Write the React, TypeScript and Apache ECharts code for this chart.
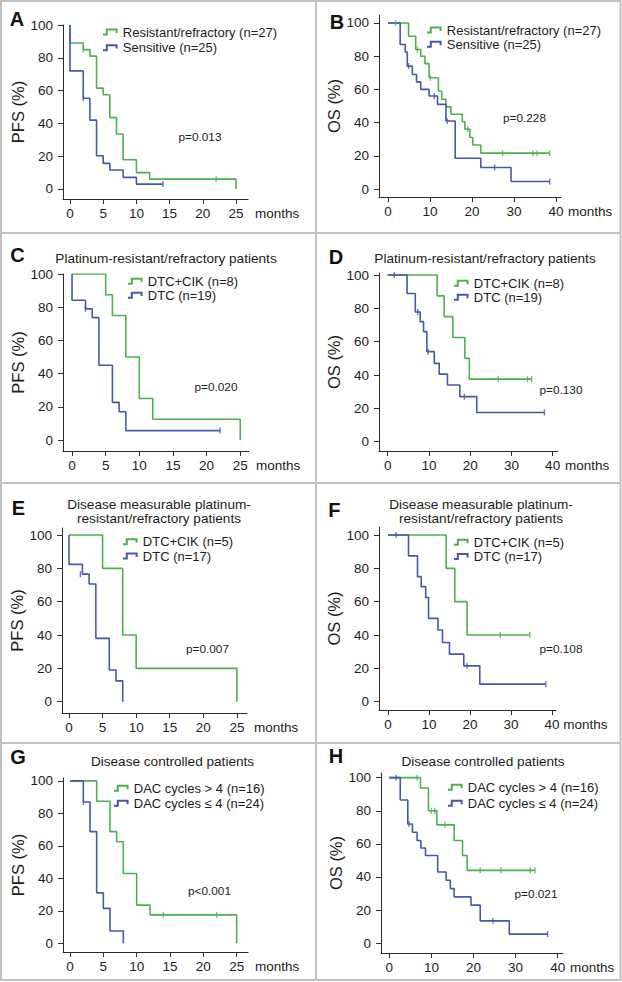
import React, { useEffect, useRef } from "react";
import * as echarts from "echarts";

type Pt = [number, number];

// ---------- tick labels ----------
const pfsTicks = [0, 5, 10, 15, 20, 25];
const osTicks = [0, 10, 20, 30, 40];
const pctTicks = [0, 20, 40, 60, 80, 100];

// ---------- legend names ----------
const legendAB = ["Resistant/refractory (n=27)", "Sensitive (n=25)"];
const legendCD = ["DTC+CIK (n=8)", "DTC (n=19)"];
const legendEF = ["DTC+CIK (n=5)", "DTC (n=17)"];
const legendGH = ["DAC cycles > 4 (n=16)", "DAC cycles \u2264 4 (n=24)"];

// ---------- titles / p values ----------
const titlesCD = ["Platinum-resistant/refractory patients"];
const titlesEF = ["Disease measurable platinum-", "resistant/refractory patients"];
const titlesGH = ["Disease controlled patients"];
const pValues = ["p=0.013", "p=0.228", "p=0.020", "p=0.130", "p=0.007", "p=0.108", "p<0.001", "p=0.021"];

// ---------- A: PFS, resistant/refractory vs sensitive ----------
const A_green: Pt[] = [[0, 100], [0, 89], [2, 85], [3, 81], [4, 61.5], [5, 57.5], [6, 43.5], [7, 33.5], [8, 17.8], [10, 10], [12, 6], [25, 0]];
const A_greenCens: Pt[] = [[2, 85], [22, 6]];
const A_blue: Pt[] = [[0, 100], [0, 72], [2, 55.3], [3, 42], [4, 20.3], [5, 15.6], [6, 11.6], [8, 7.1], [10, 3], [14, 3]];
const A_blueCens: Pt[] = [[2, 55.3], [14, 3]];

// ---------- B: OS, resistant/refractory vs sensitive ----------
const B_green: Pt[] = [[0, 100], [4.9, 92], [6.6, 84], [7.8, 80], [8.8, 75.5], [9.8, 67], [12, 59], [12.8, 54], [13.8, 49.5], [15, 45], [17.7, 40.5], [18.3, 36], [19.5, 31], [20.2, 26.5], [22.1, 21.6], [38.5, 21.6]];
const B_greenCens: Pt[] = [[1.8, 100], [7, 84], [10.1, 67], [19, 36], [27.3, 21.6], [34.5, 21.6], [35.5, 21.6], [38.5, 21.6]];
const B_blue: Pt[] = [[0, 100], [2.9, 87], [4.1, 82.5], [4.6, 74], [5.8, 69], [6.8, 64.5], [7.8, 60], [9.8, 56], [11.8, 51], [13.8, 41], [16, 18.5], [22.1, 13], [29.3, 4.5], [38.5, 4.5]];
const B_blueCens: Pt[] = [[4.9, 74], [11, 56], [14.1, 41], [25.4, 13], [38.5, 4.5]];

// ---------- C: PFS, DTC+CIK vs DTC ----------
const C_green: Pt[] = [[0, 100], [5, 87.5], [6, 75], [8, 50], [10, 25], [12, 12.5], [25, 0]];
const C_greenCens: Pt[] = [];
const C_blue: Pt[] = [[0, 100], [0, 84.2], [2, 79], [3, 73.7], [4, 45], [6, 22.7], [7, 17], [8, 5.7], [22, 5.7]];
const C_blueCens: Pt[] = [[2, 79], [22, 5.7]];

// ---------- D: OS, DTC+CIK vs DTC ----------
const D_green: Pt[] = [[0, 100], [12, 87.5], [13.7, 75], [15.8, 62.5], [18.7, 50], [19.8, 37.5], [34.9, 37.5]];
const D_greenCens: Pt[] = [[26.8, 37.5], [33.9, 37.5], [34.9, 37.5]];
const D_blue: Pt[] = [[0, 100], [4.7, 88.9], [6.7, 77.8], [7.9, 72], [8.7, 66], [9.5, 54], [11.3, 47], [12.5, 40.5], [14.5, 34], [17.5, 27], [21.6, 17.5], [38, 17.5]];
const D_blueCens: Pt[] = [[1.6, 100], [7.3, 77.8], [9.8, 54], [18.6, 27], [38, 17.5]];

// ---------- E: PFS, measurable disease ----------
const E_green: Pt[] = [[0, 100], [5, 80], [8, 40], [10, 20], [25, 0]];
const E_greenCens: Pt[] = [];
const E_blue: Pt[] = [[0, 100], [0, 82.4], [2, 76.5], [3, 70.6], [4, 38], [6, 19], [7, 12.5], [8, 0]];
const E_blueCens: Pt[] = [[1.7, 76.5]];

// ---------- F: OS, measurable disease ----------
const F_green: Pt[] = [[0, 100], [14.2, 80], [16.3, 60], [19.3, 40], [34.6, 40]];
const F_greenCens: Pt[] = [[27.4, 40], [34.6, 40]];
const F_blue: Pt[] = [[0, 100], [5, 87.5], [7.2, 75], [8.1, 69], [9.2, 62.5], [9.9, 50], [12.2, 43], [13.3, 35.5], [15, 28.5], [18.5, 21.5], [22.4, 10.5], [38.5, 10.5]];
const F_blueCens: Pt[] = [[2, 100], [19.3, 21.5], [38.5, 10.5]];

// ---------- G: PFS, disease controlled ----------
const G_green: Pt[] = [[0, 100], [4, 87.5], [6, 68.75], [7, 62.5], [8, 43], [10, 23.5], [12, 17.5], [25, 0]];
const G_greenCens: Pt[] = [[14, 17.5], [22, 17.5]];
const G_blue: Pt[] = [[0, 100], [2, 87], [3, 68.75], [4, 31], [5, 21.5], [6, 7.5], [8, 0]];
const G_blueCens: Pt[] = [[2, 87]];

// ---------- H: OS, disease controlled ----------
const H_green: Pt[] = [[0, 100], [7.4, 93.75], [9.3, 80], [11.3, 71.5], [15.4, 62], [17.4, 53], [18.5, 44], [34.6, 44]];
const H_greenCens: Pt[] = [[6.6, 100], [10, 80], [10.8, 80], [13.2, 71.5], [21.6, 44], [26.5, 44], [33.5, 44], [34.6, 44]];
const H_blue: Pt[] = [[0, 100], [2.6, 86.5], [4.4, 72], [5.5, 67], [6.6, 62], [7.5, 57.5], [8.6, 53], [11.5, 43], [13.5, 38], [14.5, 33], [15.4, 28], [19.4, 23], [21.6, 13.5], [28.5, 5.5], [37.6, 5.5]];
const H_blueCens: Pt[] = [[1.6, 100], [4.7, 72], [24.6, 13.5], [37.6, 5.5]];

// ---------- styling ----------
const FONT = '"Liberation Sans", Arial, Helvetica, sans-serif';
const GREEN = "#4cb150";
const BLUE = "#4758a8";
const AXIS = "#2a2a2a";
const TEXT = "#1c1c1c";
const BORDER = "#c0c0c0";
const LEGEND_ICON = "path://M0,5 H2.8 V0 H14.6 V4.4 H12.6 V2 H4.8 V7 H0 Z";

const panels = [
  { letter: "A", yName: "PFS (%)", xTicks: pfsTicks, legend: legendAB, title: [] as string[], g: A_green, gc: A_greenCens, b: A_blue, bc: A_blueCens,
    grid: [63, 25, 185, 174], x: [-1.05, 26.8], y: [-6.1, 100], yGap: 28, lp: [17, 19], lg: [103, 25.5, 2.7], pp: [200, 137], tp: [0, 0] },
  { letter: "B", yName: "OS (%)", xTicks: osTicks, legend: legendAB, title: [] as string[], g: B_green, gc: B_greenCens, b: B_blue, bc: B_blueCens,
    grid: [379, 15, 182, 182], x: [-2.14, 41.2], y: [-4.8, 104.8], yGap: 29, lp: [337, 22], lg: [427, 23.5, 1.3], pp: [524.5, 118], tp: [0, 0] },
  { letter: "C", yName: "PFS (%)", xTicks: pfsTicks, legend: legendCD, title: titlesCD, g: C_green, gc: C_greenCens, b: C_blue, bc: C_blueCens,
    grid: [63, 274, 186, 177], x: [-1.34, 26.3], y: [-6.6, 100], yGap: 26, lp: [17.5, 255], lg: [128, 274.7, 1], pp: [216, 387], tp: [166, 258] },
  { letter: "D", yName: "OS (%)", xTicks: osTicks, legend: legendCD, title: titlesCD, g: D_green, gc: D_greenCens, b: D_blue, bc: D_blueCens,
    grid: [379, 273, 179, 178], x: [-2.1, 41.3], y: [-5.6, 101.2], yGap: 28, lp: [336, 257], lg: [454, 276.8, 1], pp: [561, 390], tp: [485, 258] },
  { letter: "E", yName: "PFS (%)", xTicks: pfsTicks, legend: legendEF, title: titlesEF, g: E_green, gc: E_greenCens, b: E_blue, bc: E_blueCens,
    grid: [62, 528, 185, 185], x: [-1.04, 26.5], y: [-6.8, 104.2], yGap: 26, lp: [18.3, 508], lg: [123, 535.2, 1.3], pp: [207.5, 649], tp: [159, 504.8] },
  { letter: "F", yName: "OS (%)", xTicks: osTicks, legend: legendEF, title: titlesEF, g: F_green, gc: F_greenCens, b: F_blue, bc: F_blueCens,
    grid: [379, 527, 177, 183], x: [-2.2, 41], y: [-5, 104.8], yGap: 28, lp: [334.3, 510], lg: [454, 535.8, 1.3], pp: [561, 649], tp: [481, 504.8] },
  { letter: "G", yName: "PFS (%)", xTicks: pfsTicks, legend: legendGH, title: titlesGH, g: G_green, gc: G_greenCens, b: G_blue, bc: G_blueCens,
    grid: [63, 778, 185, 174], x: [-1.05, 26.7], y: [-5.4, 101.8], yGap: 26.5, lp: [18, 757], lg: [114, 781.8, 2], pp: [209.5, 891], tp: [172.5, 761] },
  { letter: "H", yName: "OS (%)", xTicks: osTicks, legend: legendGH, title: titlesGH, g: H_green, gc: H_greenCens, b: H_blue, bc: H_blueCens,
    grid: [381, 773, 182, 180], x: [-1.97, 41.26], y: [-5.9, 102.8], yGap: 29, lp: [336, 756], lg: [448, 780.8, 3], pp: [536, 894], tp: [483, 761] },
];

function buildOption() {
  const grid: any[] = [];
  const xAxis: any[] = [];
  const yAxis: any[] = [];
  const series: any[] = [];
  const legend: any[] = [];
  const graphic: any[] = [];

  const labelStyle = { fontSize: 13.5, color: TEXT, fontFamily: FONT };

  panels.forEach((p, i) => {
    grid.push({ left: p.grid[0], top: p.grid[1], width: p.grid[2], height: p.grid[3], containLabel: false });
    xAxis.push({
      gridIndex: i,
      type: "value",
      min: p.x[0],
      max: p.x[1],
      axisLine: { show: true, onZero: false, lineStyle: { color: AXIS, width: 1 } },
      axisTick: { show: true, length: 5, customValues: p.xTicks, lineStyle: { color: AXIS, width: 1 } },
      axisLabel: { ...labelStyle, margin: 7, customValues: p.xTicks },
      splitLine: { show: false },
      name: "months",
      nameLocation: "end",
      nameGap: 7,
      nameTextStyle: { ...labelStyle, align: "left", verticalAlign: "top", padding: [7, 0, 0, 0] },
    });
    yAxis.push({
      gridIndex: i,
      type: "value",
      min: p.y[0],
      max: p.y[1],
      axisLine: { show: true, onZero: false, lineStyle: { color: AXIS, width: 1 } },
      axisTick: { show: true, length: 5, customValues: pctTicks, lineStyle: { color: AXIS, width: 1 } },
      axisLabel: { ...labelStyle, margin: 10, customValues: pctTicks },
      splitLine: { show: false },
      name: p.yName,
      nameLocation: "middle",
      nameGap: p.yGap,
      nameRotate: 90,
      nameTextStyle: { fontSize: 16.5, color: TEXT, fontFamily: FONT },
    });

    series.push({
      type: "line", name: p.legend[0], xAxisIndex: i, yAxisIndex: i, step: "end",
      showSymbol: false, symbol: "none", data: p.g, color: GREEN,
      lineStyle: { color: GREEN, width: 1.6 }, itemStyle: { color: GREEN }, z: 2,
    });
    series.push({
      type: "line", name: p.legend[1], xAxisIndex: i, yAxisIndex: i, step: "end",
      showSymbol: false, symbol: "none", data: p.b, color: BLUE,
      lineStyle: { color: BLUE, width: 1.6 }, itemStyle: { color: BLUE }, z: 3,
    });
    series.push({
      type: "scatter", name: `${p.letter} censored 1`, xAxisIndex: i, yAxisIndex: i,
      data: p.gc, symbol: "rect", symbolSize: [1.4, 6], itemStyle: { color: GREEN }, silent: true, z: 4,
    });
    series.push({
      type: "scatter", name: `${p.letter} censored 2`, xAxisIndex: i, yAxisIndex: i,
      data: p.bc, symbol: "rect", symbolSize: [1.4, 6], itemStyle: { color: BLUE }, silent: true, z: 4,
    });

    legend.push({
      show: true, orient: "vertical", left: p.lg[0], top: p.lg[1], itemGap: p.lg[2],
      itemWidth: 15, itemHeight: 7, icon: LEGEND_ICON, selectedMode: false, padding: 0,
      data: p.legend,
      itemStyle: { borderWidth: 0 },
      textStyle: { fontSize: 13, color: TEXT, fontFamily: FONT, lineHeight: 13 },
    });

    graphic.push({
      type: "text", x: p.lp[0], y: p.lp[1], silent: true,
      style: { text: p.letter, fontSize: 20, fontWeight: "bold", fontFamily: FONT, fill: "#111", align: "center", verticalAlign: "middle" },
    });
    p.title.forEach((line, k) => {
      graphic.push({
        type: "text", x: p.tp[0], y: p.tp[1] + k * 13.6, silent: true,
        style: { text: line, fontSize: 13.6, fontFamily: FONT, fill: TEXT, align: "center", verticalAlign: "middle" },
      });
    });
    graphic.push({
      type: "text", x: p.pp[0], y: p.pp[1], silent: true,
      style: { text: pValues[i], fontSize: 11.8, fontFamily: FONT, fill: TEXT, align: "center", verticalAlign: "middle" },
    });
  });

  // panel frame lines
  graphic.push({ type: "rect", silent: true, shape: { x: 1, y: 1, width: 619.5, height: 979 }, style: { fill: "none", stroke: BORDER, lineWidth: 2 } });
  graphic.push({ type: "line", silent: true, shape: { x1: 316, y1: 1, x2: 316, y2: 980 }, style: { stroke: BORDER, lineWidth: 2 } });
  [233, 483, 743].forEach((yy) => {
    graphic.push({ type: "line", silent: true, shape: { x1: 1, y1: yy, x2: 620.5, y2: yy }, style: { stroke: BORDER, lineWidth: 2 } });
  });

  return {
    animation: false,
    backgroundColor: "#ffffff",
    grid,
    xAxis,
    yAxis,
    legend,
    series,
    graphic,
  };
}

export default function App() {
  const ref = useRef<HTMLDivElement>(null);
  useEffect(() => {
    if (!ref.current) return;
    const chart = echarts.init(ref.current, null, { renderer: "svg" });
    chart.setOption(buildOption() as any);
    return () => chart.dispose();
  }, []);
  return (
    <div
      ref={ref}
      style={{ position: "absolute", left: 0, top: 0, width: 622, height: 982, background: "#fff" }}
    />
  );
}
